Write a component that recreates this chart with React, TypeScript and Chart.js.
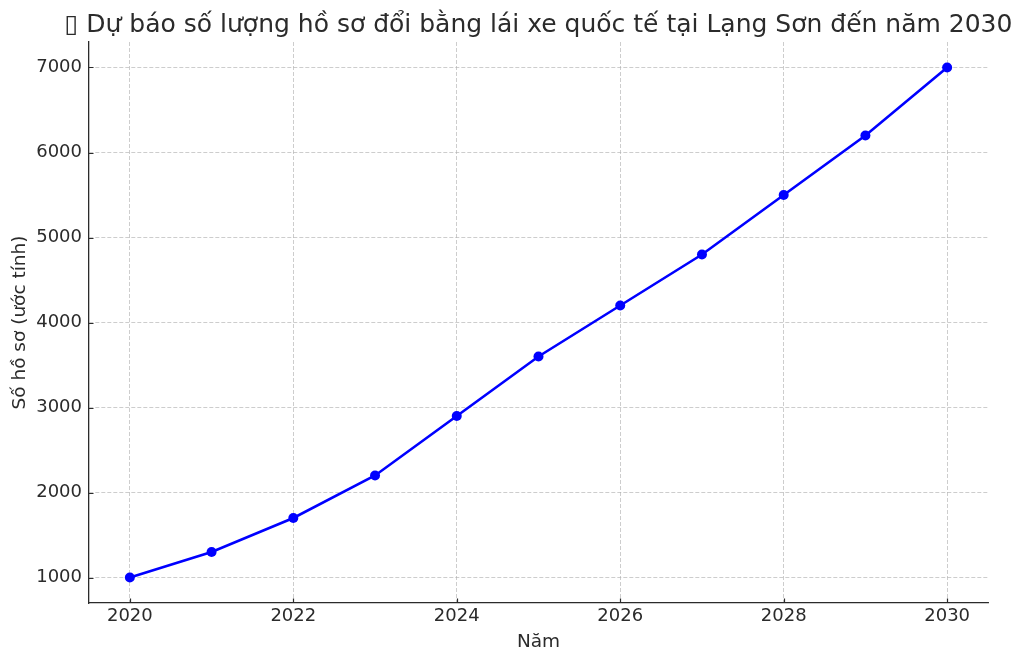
import React, { useEffect, useRef } from "react";
import { Chart, registerables } from "chart.js";

Chart.register(...registerables);

const TITLE = "▯ Dự báo số lượng hồ sơ đổi bằng lái xe quốc tế tại Lạng Sơn đến năm 2030";
const X_LABEL = "Năm";
const Y_LABEL = "Số hồ sơ (ước tính)";
const YEARS = [2020, 2021, 2022, 2023, 2024, 2025, 2026, 2027, 2028, 2029, 2030];
const VALUES = [1000, 1300, 1700, 2200, 2900, 3600, 4200, 4800, 5500, 6200, 7000];
const X_TICKS = [2020, 2022, 2024, 2026, 2028, 2030];
const Y_TICKS = [1000, 2000, 3000, 4000, 5000, 6000, 7000];

const FONT = "'DejaVu Sans', sans-serif";
const TEXT = "#2b2b2b";
const SPINE = "#2b2b2b";
const GRID = "rgba(176,176,176,0.7)";

const innerTicks = {
  id: "innerTicks",
  afterDraw(chart: any) {
    const { ctx, chartArea, scales } = chart;
    ctx.save();
    ctx.strokeStyle = SPINE;
    ctx.lineWidth = 1.2;
    const len = 4.5;
    ctx.beginPath();
    scales.x.ticks.forEach((t: any) => {
      const px = Math.round(scales.x.getPixelForValue(t.value)) + 0.5;
      ctx.moveTo(px, chartArea.bottom);
      ctx.lineTo(px, chartArea.bottom - len);
    });
    scales.y.ticks.forEach((t: any) => {
      const py = Math.round(scales.y.getPixelForValue(t.value)) + 0.5;
      ctx.moveTo(chartArea.left, py);
      ctx.lineTo(chartArea.left + len, py);
    });
    ctx.stroke();
    ctx.restore();
  },
};

const titlePlugin = {
  id: "wideTitle",
  afterDraw(chart: any) {
    const { ctx, chartArea } = chart;
    ctx.save();
    ctx.fillStyle = TEXT;
    ctx.font = `25px ${FONT}`;
    ctx.textAlign = "center";
    ctx.textBaseline = "middle";
    ctx.fillText(TITLE, (chartArea.left + chartArea.right) / 2, 25);
    ctx.restore();
  },
};

export default function App() {
  const ref = useRef<HTMLCanvasElement>(null);
  useEffect(() => {
    document.body.style.margin = "0";
    const canvas = ref.current!;
    const chart = new Chart(canvas, {
      type: "line",
      data: {
        datasets: [
          {
            data: YEARS.map((y, i) => ({ x: y, y: VALUES[i] })),
            borderColor: "#0000ff",
            backgroundColor: "#0000ff",
            borderWidth: 2.6,
            pointRadius: 5,
            pointBorderWidth: 0,
            pointBackgroundColor: "#0000ff",
            tension: 0,
          },
        ],
      },
      options: {
        responsive: false,
        animation: false,
        devicePixelRatio: 1,
        layout: { padding: { left: 0, right: 36, top: 42, bottom: 0 } },
        plugins: {
          legend: { display: false },
          tooltip: { enabled: false },
          title: { display: false },
        },
        scales: {
          x: {
            type: "linear",
            min: 2019.5,
            max: 2030.5,
            bounds: "data",
            afterBuildTicks: (s: any) => {
              s.ticks = X_TICKS.map((v) => ({ value: v }));
            },
            afterFit: (s: any) => {
              s.height = 60;
            },
            ticks: {
              color: TEXT,
              font: { family: FONT, size: 18 },
              padding: 3,
              maxRotation: 0,
              autoSkip: false,
              callback: (v: any) => String(v),
            },
            grid: {
              color: GRID,
              lineWidth: 0.9,
              drawTicks: false,
            },
            border: { display: true, color: SPINE, width: 1.3, dash: [4, 2] },
            title: {
              display: true,
              text: X_LABEL,
              color: TEXT,
              font: { family: FONT, size: 18.5 },
              padding: { top: 0, bottom: 10 },
            },
          },
          y: {
            type: "linear",
            min: 700,
            max: 7300,
            bounds: "data",
            afterBuildTicks: (s: any) => {
              s.ticks = Y_TICKS.map((v) => ({ value: v }));
            },
            afterFit: (s: any) => {
              s.width = 89;
            },
            ticks: {
              color: TEXT,
              font: { family: FONT, size: 18 },
              padding: 7,
              autoSkip: false,
              callback: (v: any) => String(v),
            },
            grid: {
              color: GRID,
              lineWidth: 0.9,
              drawTicks: false,
            },
            border: { display: true, color: SPINE, width: 1.3, dash: [4, 2] },
            title: {
              display: true,
              text: Y_LABEL,
              color: TEXT,
              font: { family: FONT, size: 18.5 },
              padding: { top: 9, bottom: 0 },
            },
          },
        },
      },
      plugins: [innerTicks, titlePlugin],
    });
    return () => chart.destroy();
  }, []);
  return (
    <div style={{ width: 1024, height: 663, background: "#fff" }}>
      <canvas ref={ref} width={1024} height={663} style={{ display: "block", width: 1024, height: 663 }} />
    </div>
  );
}
